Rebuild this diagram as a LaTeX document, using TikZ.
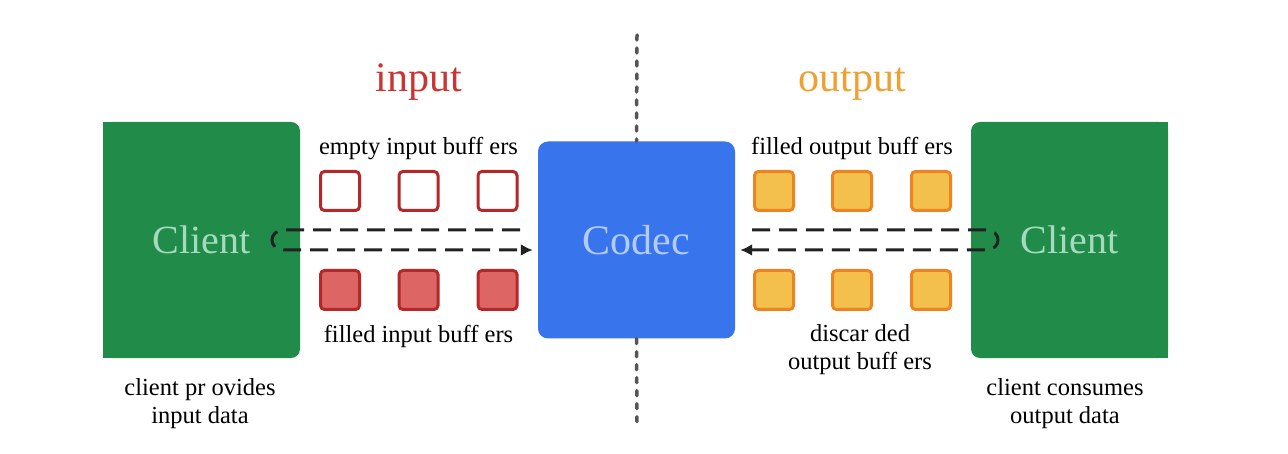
\documentclass[tikz,border=0pt]{standalone}
\usepackage{fontspec}
\setmainfont{Liberation Serif}
\usepackage{tikz}
\usetikzlibrary{arrows.meta}

\definecolor{clientgreen}{HTML}{218C4A}
\definecolor{clienttxt}{HTML}{A6DABD}
\definecolor{codecblue}{HTML}{3874EC}
\definecolor{codectxt}{HTML}{B3CBF8}
\definecolor{inred}{HTML}{B4282A}
\definecolor{infill}{HTML}{DD6664}
\definecolor{intitle}{HTML}{CC3333}
\definecolor{outorange}{HTML}{EC8424}
\definecolor{outfill}{HTML}{F3C04C}
\definecolor{outtitle}{HTML}{F0A030}
\definecolor{axisgray}{HTML}{555555}
\definecolor{flowgray}{HTML}{222222}

\begin{document}
\begin{tikzpicture}[x=1pt,y=-1pt,
  every node/.style={font=\fontsize{24.5}{28}\selectfont, text=black},
  client/.style={fill=clientgreen, rounded corners=9pt, minimum width=197pt,
    minimum height=236pt, font=\fontsize{40}{44}\selectfont, text=clienttxt},
  codecbox/.style={fill=codecblue, rounded corners=10pt, minimum size=197pt,
    font=\fontsize{42}{46}\selectfont, text=codectxt},
  buf/.style={rounded corners=4pt, line width=3pt, minimum size=39pt, inner sep=0pt},
  inempty/.style={buf, draw=inred, fill=white},
  infull/.style={buf, draw=inred, fill=infill},
  outfull/.style={buf, draw=outorange, fill=outfill},
  flow/.style={draw=flowgray, line width=3pt, dash pattern=on 18pt off 9pt},
  axis/.style={draw=axisgray, line width=3.5pt, line cap=round, dash pattern=on 5pt off 8pt},
  title/.style={font=\fontsize{42}{46}\selectfont, anchor=base}]
  \useasboundingbox (0,0) rectangle (1288,454);

  % clients and codec
  \node[client] (lclient) at (201.5,240) {Client};
  \fill[clientgreen] (lclient.north west) rectangle ([xshift=20pt]lclient.south west);
  \node[client] (rclient) at (1069.5,240) {Client};
  \fill[clientgreen] (rclient.north east) rectangle ([xshift=-20pt]rclient.south east);
  \node[codecbox] (codec) at (636.5,240) {Codec};

  % divider
  \coordinate (axtop) at (637,35);
  \coordinate (axbot) at (637,428);
  \draw[axis] (axtop) -- (codec.north);
  \draw[axis] (codec.south) -- (axbot);

  % buffers
  \foreach \x [count=\i] in {340,418.5,497.5} {
    \node[inempty] (ie\i) at (\x,191) {};
    \node[infull] (if\i) at (\x,290) {};
  }
  \foreach \x [count=\i] in {774,852,931} {
    \node[outfull] (of\i) at (\x,191) {};
    \node[outfull] (od\i) at (\x,290) {};
  }

  % flows
  \coordinate (lback) at (520,230);
  \coordinate (lturn) at (284,230);
  \coordinate (lgo) at (284,250);
  \draw[flow, -{Latex[length=12pt,width=12pt]}] (lback) -- (lturn)
    .. controls (268,230) and (268,250) .. (lgo) -- ([shift={(-5,10)}]codec.west);
  \coordinate (rback) at (752,230);
  \coordinate (rturn) at (986,230);
  \coordinate (rgo) at (986,250);
  \draw[flow, -{Latex[length=12pt,width=12pt]}] (rback) -- (rturn)
    .. controls (1002,230) and (1002,250) .. (rgo) -- ([shift={(5,10)}]codec.east);

  % titles and labels
  \node[title, text=intitle] (ttlin) at (418.5,92) {input};
  \node[title, text=outtitle] (ttlout) at (852,92) {output};
  \node[anchor=base] (lblie) at (418.5,155) {empty input buff ers};
  \node[anchor=base] (lblif) at (418.5,343) {filled input buff ers};
  \node[anchor=base] (lblof) at (852,155) {filled output buff ers};
  \node[anchor=base, align=center] (lblod) at (860,369) {discar ded\\output buff ers};
  \node[anchor=base, align=center] (lblcp) at (200,423) {client pr ovides\\input data};
  \node[anchor=base, align=center] (lblcc) at (1065,423) {client consumes\\output data};
\end{tikzpicture}
\end{document}
